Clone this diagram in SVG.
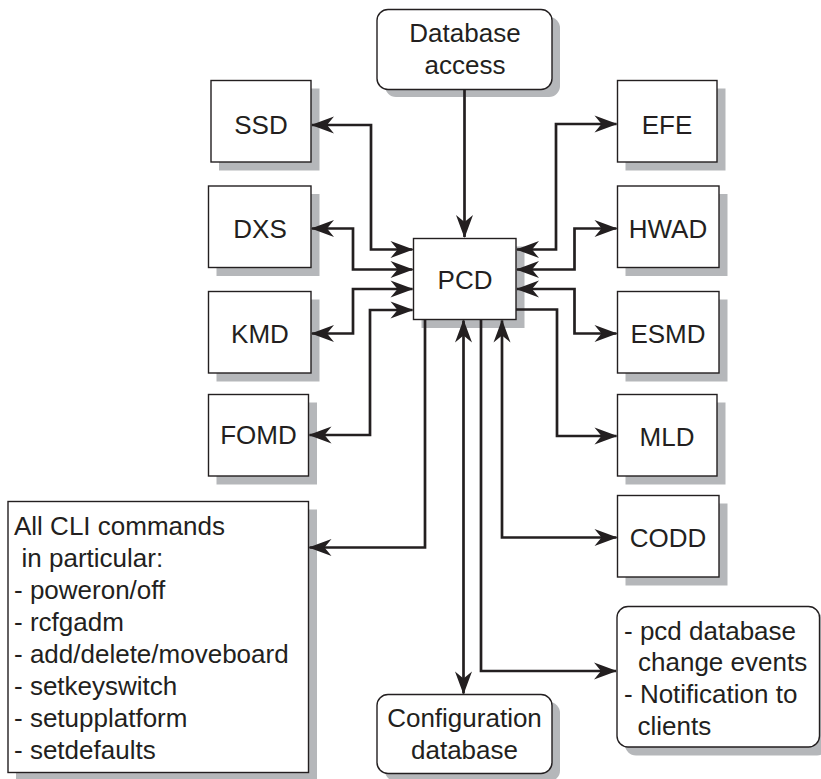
<svg xmlns="http://www.w3.org/2000/svg" width="821" height="779" viewBox="0 0 821 779">
<defs>
<style>
.box{fill:#fff;stroke:#231f20;stroke-width:1.4}
.sh{fill:#b5b7ba}
.t{font-family:"Liberation Sans",Arial,Helvetica,sans-serif;font-size:26px;fill:#231f20}
.c{text-anchor:middle}
.ln{fill:none;stroke:#231f20;stroke-width:2.7}
.a1{marker-end:url(#ah)}
.a2{marker-start:url(#ah);marker-end:url(#ah)}
</style>
<marker id="ah" markerUnits="userSpaceOnUse" viewBox="-24 -10 26 20" refX="0" refY="0" markerWidth="26" markerHeight="20" orient="auto-start-reverse">
<path d="M1,0 L-22,-8.5 L-15,0 L-22,8.5 Z" fill="#231f20"/>
</marker>
</defs>
<rect width="821" height="779" fill="#fff"/>

<g id="database-access">
<rect class="sh" x="385" y="17" width="175" height="80" rx="11"/>
<rect class="box" x="377" y="9.5" width="175" height="80" rx="11"/>
<text class="t c" x="465" y="42">Database</text>
<text class="t c" x="465" y="73.5">access</text>
</g>

<g id="ssd">
<rect class="sh" x="219" y="88.5" width="100.5" height="82"/>
<rect class="box" x="211" y="80.5" width="100" height="81.5"/>
<text class="t c" x="261" y="134">SSD</text>
</g>
<g id="dxs">
<rect class="sh" x="216.5" y="194" width="103" height="82"/>
<rect class="box" x="208.5" y="186" width="102.5" height="81.5"/>
<text class="t c" x="260" y="237.5">DXS</text>
</g>
<g id="kmd">
<rect class="sh" x="216.5" y="299.5" width="103" height="82"/>
<rect class="box" x="208.5" y="291.5" width="102.5" height="81.5"/>
<text class="t c" x="260" y="342.5">KMD</text>
</g>
<g id="fomd">
<rect class="sh" x="216.5" y="402.5" width="100.5" height="82"/>
<rect class="box" x="208.5" y="394.5" width="100" height="81.5"/>
<text class="t c" x="258.5" y="444">FOMD</text>
</g>

<g id="cli">
<rect class="sh" x="16" y="509.5" width="301" height="271"/>
<rect class="box" x="8" y="501.5" width="300.5" height="271"/>
<text class="t" x="14" y="535">All CLI commands</text>
<text class="t" x="21.5" y="566.5">in particular:</text>
<text class="t" x="14" y="598.5">- poweron/off</text>
<text class="t" x="14" y="630.5">- rcfgadm</text>
<text class="t" x="14" y="662.5">- add/delete/moveboard</text>
<text class="t" x="14" y="694.5">- setkeyswitch</text>
<text class="t" x="14" y="726.5">- setupplatform</text>
<text class="t" x="14" y="758.5">- setdefaults</text>
</g>

<g id="pcd">
<rect class="sh" x="421.5" y="246.5" width="103" height="81.5"/>
<rect class="box" x="413.5" y="238.5" width="102.5" height="81"/>
<text class="t c" x="465" y="288.5">PCD</text>
</g>

<g id="efe">
<rect class="sh" x="625.5" y="88.5" width="100" height="82"/>
<rect class="box" x="617.5" y="80.5" width="99.5" height="81.5"/>
<text class="t c" x="667" y="133.5">EFE</text>
</g>
<g id="hwad">
<rect class="sh" x="625.5" y="194" width="102" height="82"/>
<rect class="box" x="617.5" y="186" width="101.5" height="81.5"/>
<text class="t c" x="668" y="237.5">HWAD</text>
</g>
<g id="esmd">
<rect class="sh" x="625.5" y="299.5" width="102" height="82"/>
<rect class="box" x="617.5" y="291.5" width="101.5" height="81.5"/>
<text class="t c" x="668" y="342.5">ESMD</text>
</g>
<g id="mld">
<rect class="sh" x="625.5" y="402.5" width="100" height="82"/>
<rect class="box" x="617.5" y="394.5" width="99.5" height="81.5"/>
<text class="t c" x="667" y="445.5">MLD</text>
</g>
<g id="codd">
<rect class="sh" x="625.5" y="503.5" width="102" height="82"/>
<rect class="box" x="617.5" y="495.5" width="101.5" height="81.5"/>
<text class="t c" x="668" y="546.5">CODD</text>
</g>

<g id="notification">
<rect class="sh" x="625" y="614" width="203" height="141.5" rx="11"/>
<rect class="box" x="617" y="606.5" width="202.5" height="140.5" rx="11"/>
<text class="t" x="624" y="639.5">- pcd database</text>
<text class="t" x="638" y="671">change events</text>
<text class="t" x="624" y="703">- Notification to</text>
<text class="t" x="637.5" y="734.5">clients</text>
</g>

<g id="configuration-database">
<rect class="sh" x="385" y="702" width="175" height="79.5" rx="11"/>
<rect class="box" x="377" y="694.5" width="175" height="79" rx="11"/>
<text class="t c" x="464.5" y="727">Configuration</text>
<text class="t c" x="464.5" y="758.5">database</text>
</g>

<g id="connectors">
<path class="ln a1" d="M464.5,89.5 V237"/>
<path class="ln a2" d="M312,125 H371 V249.5 H412.5"/>
<path class="ln a2" d="M312,228.5 H353 V269.5 H412.5"/>
<path class="ln a2" d="M312,333.5 H353 V289 H412.5"/>
<path class="ln a2" d="M309.5,435 H370 V310 H412.5"/>
<path class="ln a1" d="M425,320 V547.5 H309.5"/>
<path class="ln a2" d="M616.5,124 H556 V249.5 H517"/>
<path class="ln a2" d="M616.5,228.5 H574.5 V269.5 H517"/>
<path class="ln a2" d="M616.5,333.5 H574.5 V289 H517"/>
<path class="ln a1" d="M516,309.5 H557 V436 H616.5"/>
<path class="ln a2" d="M463.5,320.5 V693.5"/>
<path class="ln a1" d="M481,320 V671 H616"/>
<path class="ln a2" d="M616.5,537.5 H502 V320.5"/>
</g>
</svg>
